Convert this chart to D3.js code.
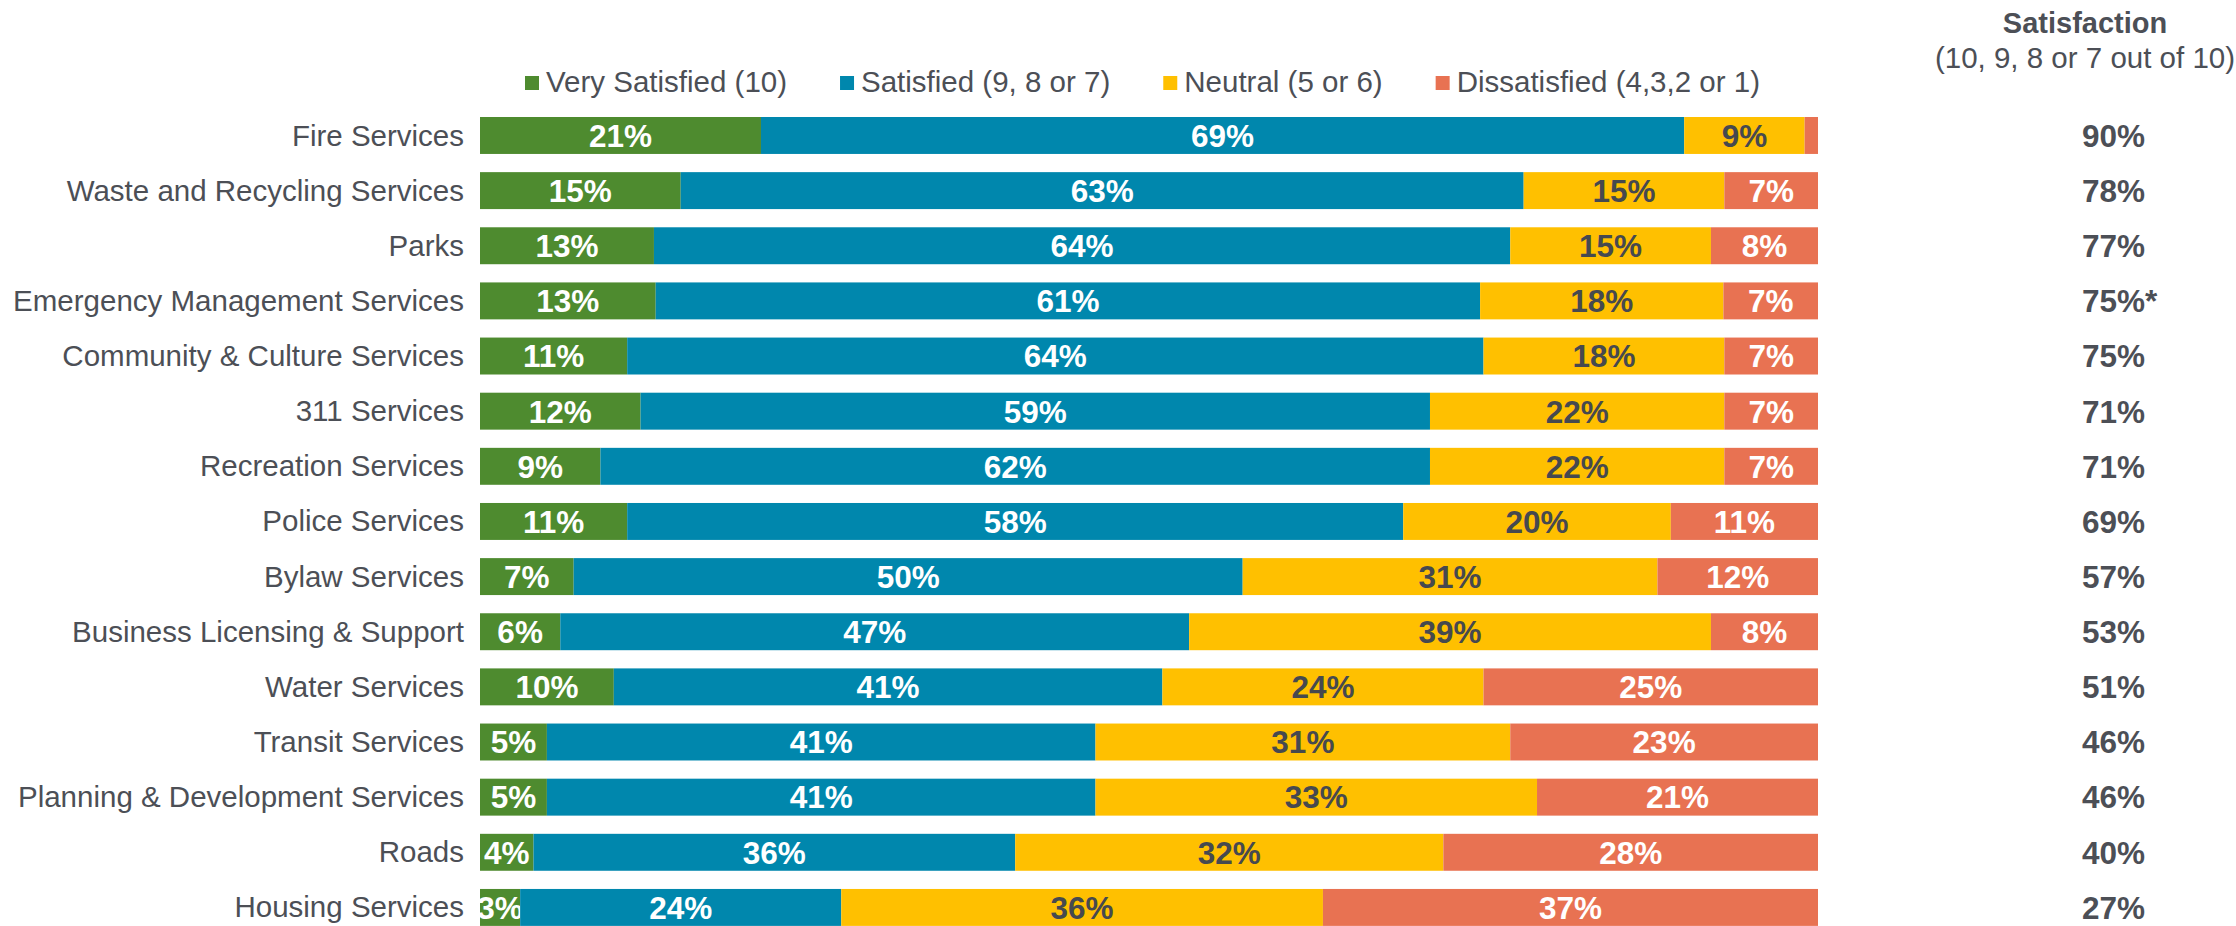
<!DOCTYPE html>
<html>
<head>
<meta charset="utf-8">
<script src="https://cdn.jsdelivr.net/npm/d3@7"></script>
<style>
  body { margin: 0; background: #fff; }
  svg text { font-family: "Liberation Sans", Arial, sans-serif; }
</style>
</head>
<body>
<div id="chart"></div>
<script>
var width = 2236,
    height = 926;

var categories = ['Fire Services', 'Waste and Recycling Services', 'Parks', 'Emergency Management Services',
    'Community & Culture Services', '311 Services', 'Recreation Services', 'Police Services', 'Bylaw Services',
    'Business Licensing & Support', 'Water Services', 'Transit Services', 'Planning & Development Services',
    'Roads', 'Housing Services'];
var verySatisfied = [21, 15, 13, 13, 11, 12, 9, 11, 7, 6, 10, 5, 5, 4, 3];
var satisfied     = [69, 63, 64, 61, 64, 59, 62, 58, 50, 47, 41, 41, 41, 36, 24];
var neutral       = [9, 15, 15, 18, 18, 22, 22, 20, 31, 39, 24, 31, 33, 32, 36];
var dissatisfied  = [1, 7, 8, 7, 7, 7, 7, 11, 12, 8, 25, 23, 21, 28, 37];
var satisfaction  = ['90%', '78%', '77%', '75%*', '75%', '71%', '71%', '69%', '57%', '53%', '51%', '46%', '46%', '40%', '27%'];

var seriesNames = ['Very Satisfied (10)', 'Satisfied (9, 8 or 7)', 'Neutral (5 or 6)', 'Dissatisfied (4,3,2 or 1)'];
var keys = ['vs', 's', 'n', 'd'];
var colors = ['#4e8b2f', '#0087ad', '#ffc000', '#e87252'];
var labelColors = ['#ffffff', '#ffffff', '#46494f', '#ffffff'];
var grey = '#4c4f56';

var rows = categories.map(function(c, i) {
    return { cat: c, vs: verySatisfied[i], s: satisfied[i], n: neutral[i], d: dissatisfied[i] };
});

// 100% stacked, like the original
var stacked = d3.stack().keys(keys).offset(d3.stackOffsetExpand)(rows);

var x = d3.scaleLinear().domain([0, 1]).range([480, 1818]);
var step = 55.14;
var y = d3.scaleBand()
    .domain(categories)
    .range([117 - step * 0.165, 117 - step * 0.165 + step * categories.length])
    .paddingInner(0.33)
    .paddingOuter(0.165);

var svg = d3.select('#chart').append('svg')
    .attr('width', width)
    .attr('height', height);

svg.append('clipPath').attr('id', 'plot')
    .append('rect')
    .attr('x', x(0)).attr('y', 0)
    .attr('width', x(1) - x(0)).attr('height', height);

var layers = svg.append('g').attr('clip-path', 'url(#plot)')
    .selectAll('g.layer')
    .data(stacked)
    .enter().append('g')
    .attr('class', 'layer');

layers.selectAll('rect')
    .data(function(d) { return d; })
    .enter().append('rect')
    .attr('x', function(d) { return x(d[0]); })
    .attr('y', function(d) { return y(d.data.cat); })
    .attr('width', function(d) { return x(d[1]) - x(d[0]); })
    .attr('height', y.bandwidth())
    .style('fill', function(d) { return colors[keys.indexOf(d3.select(this.parentNode).datum().key)]; });

layers.each(function(layer, li) {
    d3.select(this).selectAll('text')
        .data(layer.filter(function(d) { return d.data[layer.key] >= 2; }))
        .enter().append('text')
        .attr('x', function(d) { return (x(d[0]) + x(d[1])) / 2; })
        .attr('y', function(d) { return y(d.data.cat) + y.bandwidth() / 2; })
        .attr('dy', '0.36em')
        .attr('text-anchor', 'middle')
        .style('font-size', '31.5px')
        .style('font-weight', 'bold')
        .style('fill', labelColors[li])
        .text(function(d) { return d.data[layer.key] + '%'; });
});

// category labels
svg.append('g').selectAll('text')
    .data(categories)
    .enter().append('text')
    .attr('x', 464)
    .attr('y', function(d) { return y(d) + y.bandwidth() / 2; })
    .attr('dy', '0.34em')
    .attr('text-anchor', 'end')
    .style('font-size', '29.5px')
    .style('fill', grey)
    .text(function(d) { return d; });

// satisfaction column
svg.append('text')
    .attr('x', 2085).attr('y', 33)
    .attr('text-anchor', 'middle')
    .style('font-size', '29px')
    .style('font-weight', 'bold')
    .style('fill', grey)
    .text('Satisfaction');
svg.append('text')
    .attr('x', 2085).attr('y', 68)
    .attr('text-anchor', 'middle')
    .style('font-size', '29.5px')
    .style('fill', grey)
    .text('(10, 9, 8 or 7 out of 10)');

svg.append('g').selectAll('text')
    .data(satisfaction)
    .enter().append('text')
    .attr('x', 2082)
    .attr('y', function(d, i) { return y(categories[i]) + y.bandwidth() / 2; })
    .attr('dy', '0.36em')
    .style('font-size', '31.5px')
    .style('font-weight', 'bold')
    .style('fill', grey)
    .text(function(d) { return d; });

// legend
var legend = svg.append('g').attr('class', 'legend');
var lx = 525;
seriesNames.forEach(function(name, i) {
    var g = legend.append('g').attr('transform', 'translate(' + lx + ',0)');
    g.append('rect')
        .attr('x', 0).attr('y', 76)
        .attr('width', 14).attr('height', 14)
        .style('fill', colors[i]);
    var t = g.append('text')
        .attr('x', 21).attr('y', 81)
        .attr('dy', '0.36em')
        .style('font-size', '29.5px')
        .style('fill', grey)
        .text(name);
    lx += 21 + t.node().getComputedTextLength() + 53;
});
</script>
</body>
</html>
